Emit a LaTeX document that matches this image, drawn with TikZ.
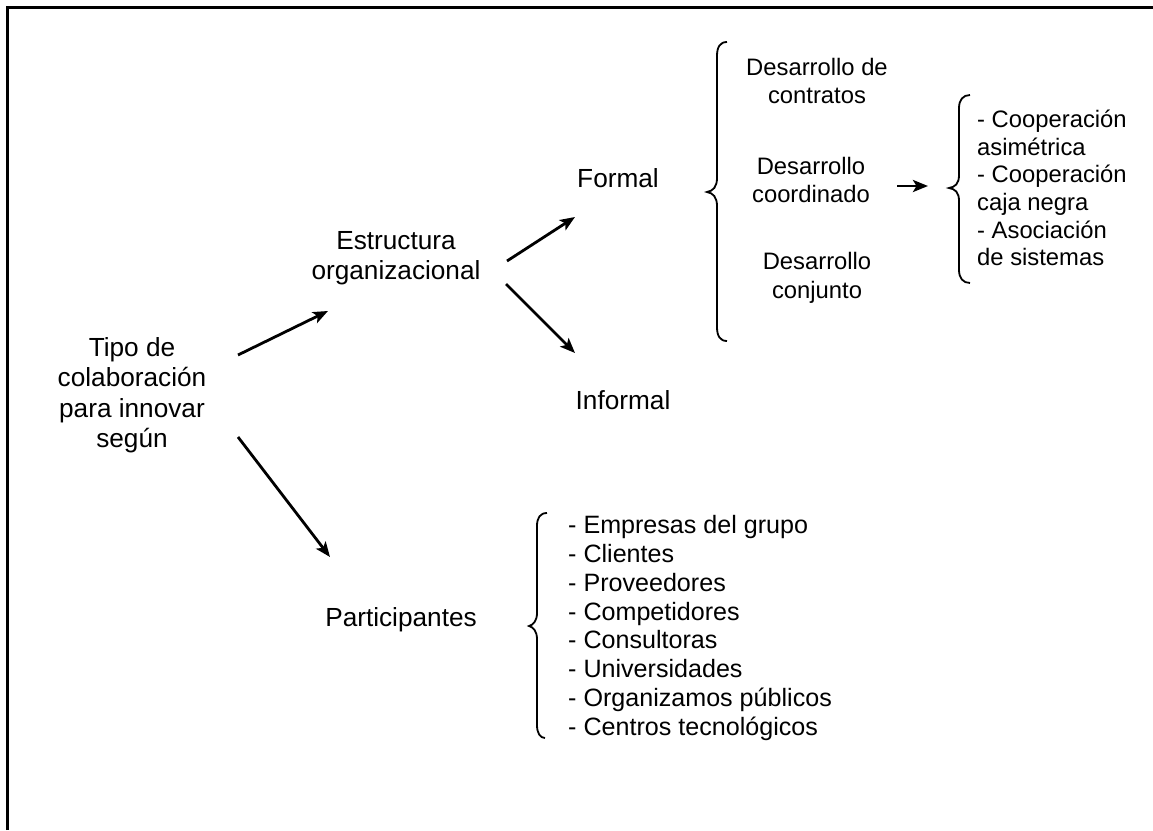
\documentclass[tikz,border=0pt]{standalone}
\usepackage{fontspec}
\setmainfont{Liberation Sans}
\usetikzlibrary{arrows.meta}
\begin{document}
\begin{tikzpicture}[x=1pt,y=-1pt,
  lbl/.style={align=center, font=\fontsize{26.2}{30.5}\selectfont, inner sep=0pt},
  sublbl/.style={align=center, font=\fontsize{23.8}{28.5}\selectfont, inner sep=0pt},
  lst/.style={align=left, inner sep=0pt, anchor=west},
  arr/.style={line width=2.8pt, -{Stealth[length=15pt,width=12pt,inset=3.5pt]}},
  brc/.style={line width=1.8pt}]
\useasboundingbox (0,0) rectangle (1153,830);
% open frame: top and left edges
\draw[line width=3pt] (7,830) -- (7,7) -- (1153,7);

% main nodes
\node[lbl] (tipo) at (132,395) {Tipo de\\colaboración\\para innovar\\según};
\node[lbl] (estr) at (396,258) {Estructura\\organizacional};
\node[lbl] (formal) at (618,178) {Formal};
\node[lbl] (informal) at (623,400) {Informal};
\node[lbl] (partic) at (401,620) {Participantes};

% kinds of formal structure
\node[sublbl] (dcontr) at (817,81) {Desarrollo de\\contratos};
\node[sublbl] (dcoord) at (811,180) {Desarrollo\\coordinado};
\node[sublbl] (dconj) at (817,278) {Desarrollo\\conjunto};

% lists
\node[lst, font=\fontsize{23.8}{27.6}\selectfont] (coop) at (977,188)
  {- Cooperación\\asimétrica\\- Cooperación\\caja negra\\- Asociación\\de sistemas};
\node[lst, font=\fontsize{25.1}{28.9}\selectfont] (plist) at (568,628)
  {- Empresas del grupo\\- Clientes\\- Proveedores\\- Competidores\\- Consultoras\\- Universidades\\- Organizamos públicos\\- Centros tecnológicos};

% braces
\coordinate (fbtip) at (707,192);
\draw[brc] (727,42) .. controls (720,42) and (717,47) .. (717,56) -- (717,178)
  .. controls (717,187) and (713,191) .. (fbtip)
  .. controls (713,193) and (717,197) .. (717,206) -- (717,327)
  .. controls (717,336) and (720,341) .. (727,341);
\coordinate (cbtip) at (949,188);
\draw[brc] (970,95) .. controls (963,95) and (959,100) .. (959,108) -- (959,175)
  .. controls (959,184) and (955,187) .. (cbtip)
  .. controls (955,189) and (959,192) .. (959,201) -- (959,270)
  .. controls (959,278) and (963,283) .. (970,283);
\coordinate (pbtip) at (529,626);
\draw[brc] (547,513) .. controls (540,513) and (537,518) .. (537,526) -- (537,613)
  .. controls (537,621) and (533,625) .. (pbtip)
  .. controls (533,627) and (537,631) .. (537,639) -- (537,725)
  .. controls (537,733) and (540,738) .. (545,738);

% connectors
\draw[arr] ([shift={(106,-40)}]tipo.center) -- ([shift={(-68,53)}]estr.center);
\draw[arr] ([shift={(106,42)}]tipo.center) -- ([shift={(-71,-63)}]partic.center);
\draw[arr] ([shift={(111,3)}]estr.center) -- ([shift={(-43,39)}]formal.center);
\draw[arr] ([shift={(110,26)}]estr.center) -- ([shift={(-48,-47)}]informal.center);
\draw[arr] ([shift={(86,6)}]dcoord.center) -- ([shift={(-21,-2)}]cbtip);
\end{tikzpicture}
\end{document}
